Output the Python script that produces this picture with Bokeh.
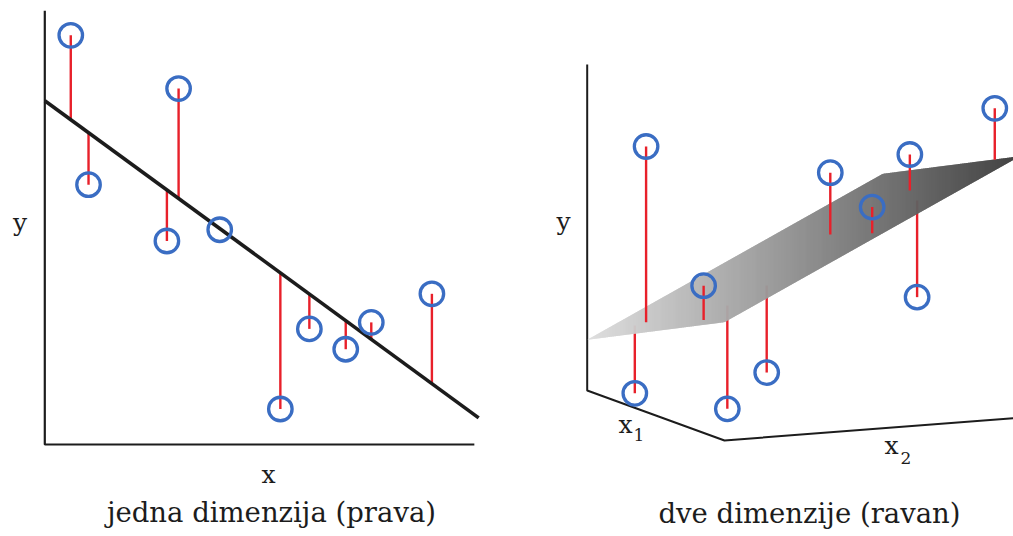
import numpy as np
from bokeh.plotting import figure
from bokeh.layouts import row
from bokeh.models import Range1d
from bokeh.embed import file_html
from bokeh.resources import INLINE
from bokeh.core.properties import value

# ---------------- data: one dimension (line) ----------------
x_left = [0.60, 1.01, 3.09, 2.82, 4.04, 5.44, 6.11, 6.95, 7.54, 8.94]
y_left = [9.45, 6.00, 8.22, 4.70, 4.96, 0.82, 2.67, 2.20, 2.82, 3.48]
fit_intercept = 7.94
fit_slope = -0.731
fit_x_span = [0.0, 10.02]
axis_x_max = 9.92
axis_y_max = 10.02

# ---------------- data: two dimensions (plane) ----------------
x1_pts = [2.61, 2.09, 7.64, 7.45, 7.82, 5.24, 8.98, 5.35, 7.73, 8.22]
x2_pts = [0.78, 0.64, 0.39, 1.28, 2.44, 5.79, 5.47, 8.43, 7.57, 9.97]
y_pts = [7.83, 0.19, 4.36, 0.49, 1.58, 7.08, 6.62, 7.47, 3.52, 9.22]
plane_b0, plane_b1, plane_b2 = 1.555, 0.2074, 0.4393
x1_max, x2_max, y_max = 10.0, 10.0, 10.0

titles = ["jedna dimenzija (prava)", "dve dimenzije (ravan)"]

BLUE = "#3a6dc3"
RED = "#e8202a"
INK = "#1c1c1c"
FONT = value("DejaVu Serif")

def base_fig(w, xr, yr):
    p = figure(width=w, height=536, x_range=xr, y_range=yr,
               output_backend="svg", toolbar_location=None,
               x_axis_type=None, y_axis_type=None,
               min_border=0, min_border_left=0, min_border_right=0,
               min_border_top=0, min_border_bottom=0)
    p.grid.visible = False
    p.outline_line_color = None
    p.background_fill_color = "white"
    p.border_fill_color = "white"
    return p

def label(p, x, y, t, size, align="center"):
    p.text(x=x, y=y, text=t, text_font=FONT, text_font_size=size,
           text_align=align, text_baseline="alphabetic", text_color=INK)

# ---------------- left panel ----------------
L = base_fig(508, Range1d(-1.023, 10.709), Range1d(-2.125, 10.254))
xl = np.array(x_left); yl = np.array(y_left)
yhat_l = fit_intercept + fit_slope * xl
# axes
L.line([0, 0, axis_x_max], [axis_y_max, 0, 0], line_color=INK, line_width=2.2)
# residuals
L.segment(x0=xl, y0=yl, x1=xl, y1=yhat_l, line_color=RED, line_width=2.4)
# regression line
fx = np.array(fit_x_span)
L.line(fx, fit_intercept + fit_slope * fx, line_color=INK, line_width=3.6)
# points
L.scatter(xl, yl, marker="circle", size=23.5, fill_color=None,
          line_color=BLUE, line_width=3.3)
label(L, [-0.573], [5.12], ["y"], "25px")
label(L, [5.17], [-0.69], ["x"], "25px")
label(L, [5.235], [-1.57], [titles[0]], "27.5px")

# ---------------- right panel (oblique projection) ----------------
O = (586.7, 390.0)
E1 = (13.73, 5.0)
E2 = (29.56, -2.28)
EY = 32.6

def proj(a1, a2, yy):
    a1 = np.asarray(a1, float); a2 = np.asarray(a2, float); yy = np.asarray(yy, float)
    return (O[0] + E1[0] * a1 + E2[0] * a2,
            O[1] + E1[1] * a1 + E2[1] * a2 - EY * yy)

def plane(a1, a2):
    return plane_b0 + plane_b1 * np.asarray(a1) + plane_b2 * np.asarray(a2)

R = base_fig(505, Range1d(508, 1013), Range1d(536, 0))

# axes
ax_pts = [(0, 0, y_max), (0, 0, 0), (x1_max, 0, 0), (x1_max, x2_max * 1.05, 0)]
ax_x, ax_y = proj([a[0] for a in ax_pts], [a[1] for a in ax_pts], [a[2] for a in ax_pts])
R.line(ax_x, ax_y, line_color=INK, line_width=2.0)

x1a = np.array(x1_pts); x2a = np.array(x2_pts); ya = np.array(y_pts)
yhat_r = plane(x1a, x2a)
px, py = proj(x1a, x2a, ya)
fx_, fy_ = proj(x1a, x2a, yhat_r)
above = ya > yhat_r

# residuals below the plane (hidden by plane)
R.segment(x0=px[~above], y0=py[~above], x1=fx_[~above], y1=fy_[~above],
          line_color=RED, line_width=2.4)

# plane with horizontal gradient
cx, cy = proj([0, x1_max, x1_max, 0], [0, 0, x2_max, x2_max],
              plane([0, x1_max, x1_max, 0], [0, 0, x2_max, x2_max]))
A, B, C, D = [(cx[i], cy[i]) for i in range(4)]
bot_x = [A[0], B[0], C[0]]; bot_y = [A[1], B[1], C[1]]
top_x = [A[0], D[0], C[0]]; top_y = [A[1], D[1], C[1]]
g0, g1 = 222, 58
xs, ys, cols = [], [], []
step = 1.0
sx = A[0]
while sx < C[0]:
    xa = sx; xb = min(sx + step + 0.6, C[0])
    xs.append([xa, xb, xb, xa])
    ys.append([np.interp(xa, bot_x, bot_y), np.interp(xb, bot_x, bot_y),
               np.interp(xb, top_x, top_y), np.interp(xa, top_x, top_y)])
    t = (sx + step / 2 - A[0]) / (C[0] - A[0])
    g = int(round(g0 + (g1 - g0) * t))
    cols.append("#%02x%02x%02x" % (g, g, g))
    sx += step
R.patches(xs=xs, ys=ys, fill_color=cols, line_color=None)

# residuals above the plane
R.segment(x0=px[above], y0=py[above], x1=fx_[above], y1=fy_[above],
          line_color=RED, line_width=2.4)
R.scatter(px, py, marker="circle", size=23.5, fill_color=None,
          line_color=BLUE, line_width=3.3)

label(R, [563], [221], ["y"], "25px")
label(R, [625, 891], [424, 445], ["x", "x"], "25px")
label(R, [633, 900], [434, 457], ["1", "2"], "17px", align="left")
label(R, [809], [512], [titles[1]], "27.5px")

layout = row(L, R, spacing=0)
open("out.html", "w").write(file_html(layout, INLINE))
